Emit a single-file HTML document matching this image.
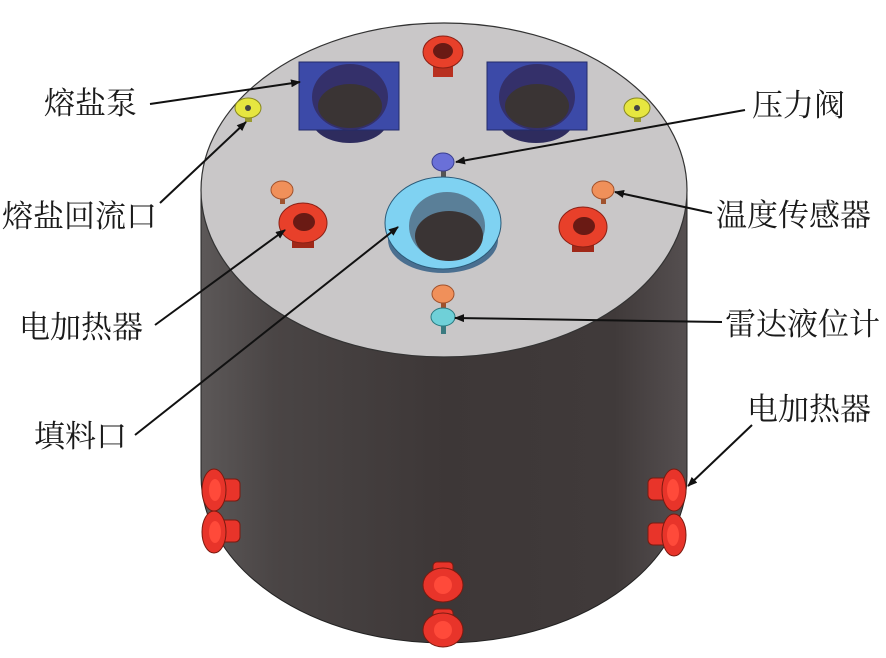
<!DOCTYPE html>
<html><head><meta charset="utf-8"><style>
html,body{margin:0;padding:0;background:#fff;}
svg{display:block;}
text{font-family:"Liberation Serif","Noto Serif CJK SC",serif;font-size:31px;fill:#1a1a1a;}
</style></head><body>
<svg width="886" height="658" viewBox="0 0 886 658" xmlns="http://www.w3.org/2000/svg">
<defs>
<linearGradient id="body" x1="0" x2="1" y1="0" y2="0">
<stop offset="0" stop-color="#5c5858"/><stop offset="0.15" stop-color="#4a4545"/>
<stop offset="0.5" stop-color="#3d3737"/><stop offset="0.85" stop-color="#403a3a"/><stop offset="1" stop-color="#554f50"/>
</linearGradient>
<marker id="ar" markerWidth="10" markerHeight="8" refX="9" refY="4" orient="auto" markerUnits="userSpaceOnUse">
<path d="M0,0 L10,4 L0,8 Z" fill="#111"/></marker>
</defs>
<path d="M201,190 L201,476 A243,167 0 0 0 687,476 L687,190 Z" fill="url(#body)" stroke="#222" stroke-width="1"/>
<ellipse cx="444" cy="190" rx="243" ry="167" fill="#c9c7c8" stroke="#333" stroke-width="1.2"/>

<g>
<ellipse cx="350" cy="120" rx="38" ry="23" fill="#2e2c5e"/>
<rect x="299" y="62" width="100" height="68" fill="#3c4aa8" stroke="#222b6a"/>
<ellipse cx="350" cy="97" rx="38" ry="33" fill="#34306a"/>
<ellipse cx="350" cy="106" rx="32" ry="22" fill="#3a3434"/>
<ellipse cx="536" cy="120" rx="38" ry="23" fill="#2e2c5e"/>
<rect x="487" y="62" width="100" height="68" fill="#3c4aa8" stroke="#222b6a"/>
<ellipse cx="537" cy="97" rx="38" ry="33" fill="#34306a"/>
<ellipse cx="537" cy="106" rx="32" ry="22" fill="#3a3434"/>
</g>
<rect x="433" y="55" width="20" height="22" fill="#b83020"/>
<ellipse cx="443" cy="52" rx="20" ry="16" fill="#e8402a" stroke="#8a2015"/>
<ellipse cx="443" cy="51" rx="10" ry="8" fill="#6a1a14"/>
<rect x="245" y="110" width="7" height="12" fill="#9a9a30"/>
<ellipse cx="248" cy="108" rx="13" ry="10" fill="#e6e640" stroke="#888820"/>
<circle cx="248" cy="108" r="3" fill="#444"/>
<rect x="634" y="110" width="7" height="12" fill="#9a9a30"/>
<ellipse cx="637" cy="108" rx="13" ry="10" fill="#e6e640" stroke="#888820"/>
<circle cx="637" cy="108" r="3" fill="#444"/>
<rect x="441" y="165" width="5" height="12" fill="#555"/>
<ellipse cx="443" cy="162" rx="11" ry="9" fill="#6a70d8" stroke="#3a3f90"/>
<ellipse cx="443" cy="240" rx="55" ry="33" fill="#4a6f90"/>
<ellipse cx="443" cy="223" rx="58" ry="46" fill="#7fd2f2" stroke="#2a5a78"/>
<ellipse cx="447" cy="226" rx="38" ry="34" fill="#5a7f98"/>
<ellipse cx="449" cy="236" rx="34" ry="25" fill="#3a3434"/>
<rect x="280" y="192" width="5" height="12" fill="#a0522d"/>
<ellipse cx="282" cy="190" rx="11" ry="9" fill="#f0905a" stroke="#a0522d"/>
<rect x="601" y="192" width="5" height="12" fill="#a0522d"/>
<ellipse cx="603" cy="190" rx="11" ry="9" fill="#f0905a" stroke="#a0522d"/>
<rect x="292" y="228" width="22" height="20" fill="#a02818"/>
<ellipse cx="303" cy="223" rx="24" ry="20" fill="#e8402a" stroke="#8a2015"/>
<ellipse cx="304" cy="222" rx="11" ry="9" fill="#6a1a14"/>
<rect x="572" y="232" width="22" height="20" fill="#a02818"/>
<ellipse cx="583" cy="227" rx="24" ry="20" fill="#e8402a" stroke="#8a2015"/>
<ellipse cx="584" cy="226" rx="11" ry="9" fill="#6a1a14"/>
<rect x="441" y="297" width="5" height="12" fill="#a0522d"/>
<ellipse cx="443" cy="294" rx="11" ry="9" fill="#f0905a" stroke="#a0522d"/>
<rect x="441" y="320" width="5" height="14" fill="#3a7a80"/>
<ellipse cx="443" cy="317" rx="12" ry="9" fill="#6fd0d8" stroke="#2a7a80"/>

<g fill="#e8342a" stroke="#7a1a10">
<rect x="212" y="479" width="28" height="22" rx="5"/>
<ellipse cx="214" cy="490" rx="12" ry="21"/>
<rect x="212" y="520" width="28" height="22" rx="5"/>
<ellipse cx="214" cy="532" rx="12" ry="21"/>
<rect x="648" y="478" width="28" height="22" rx="5"/>
<ellipse cx="674" cy="490" rx="12" ry="21"/>
<rect x="648" y="523" width="28" height="22" rx="5"/>
<ellipse cx="674" cy="535" rx="12" ry="21"/>
<rect x="433" y="562" width="20" height="14" rx="4"/>
<ellipse cx="443" cy="585" rx="20" ry="17"/>
<rect x="433" y="609" width="20" height="12" rx="4"/>
<ellipse cx="443" cy="630" rx="20" ry="17"/>
</g>
<g fill="#ff4a3a"><circle cx="443" cy="585" r="9"/><circle cx="443" cy="630" r="9"/>
<ellipse cx="215" cy="490" rx="6" ry="11"/><ellipse cx="215" cy="532" rx="6" ry="11"/>
<ellipse cx="673" cy="490" rx="6" ry="11"/><ellipse cx="673" cy="535" rx="6" ry="11"/></g>

<g stroke="#111" stroke-width="2" fill="none" marker-end="url(#ar)">
<line x1="150" y1="104" x2="300" y2="82"/>
<line x1="160" y1="203" x2="246" y2="122"/>
<line x1="155" y1="325" x2="285" y2="230"/>
<line x1="135" y1="435" x2="398" y2="227"/>
<line x1="745" y1="110" x2="456" y2="162"/>
<line x1="712" y1="213" x2="615" y2="192"/>
<line x1="722" y1="322" x2="455" y2="318"/>
<line x1="752" y1="425" x2="688" y2="486"/>
</g>

<text x="44" y="114">熔盐泵</text>
<text x="2" y="227">熔盐回流口</text>
<text x="19" y="338">电加热器</text>
<text x="34" y="447">填料口</text>
<text x="752" y="116">压力阀</text>
<text x="716" y="226">温度传感器</text>
<text x="725" y="335">雷达液位计</text>
<text x="747" y="420">电加热器</text>
</svg>
</body></html>
